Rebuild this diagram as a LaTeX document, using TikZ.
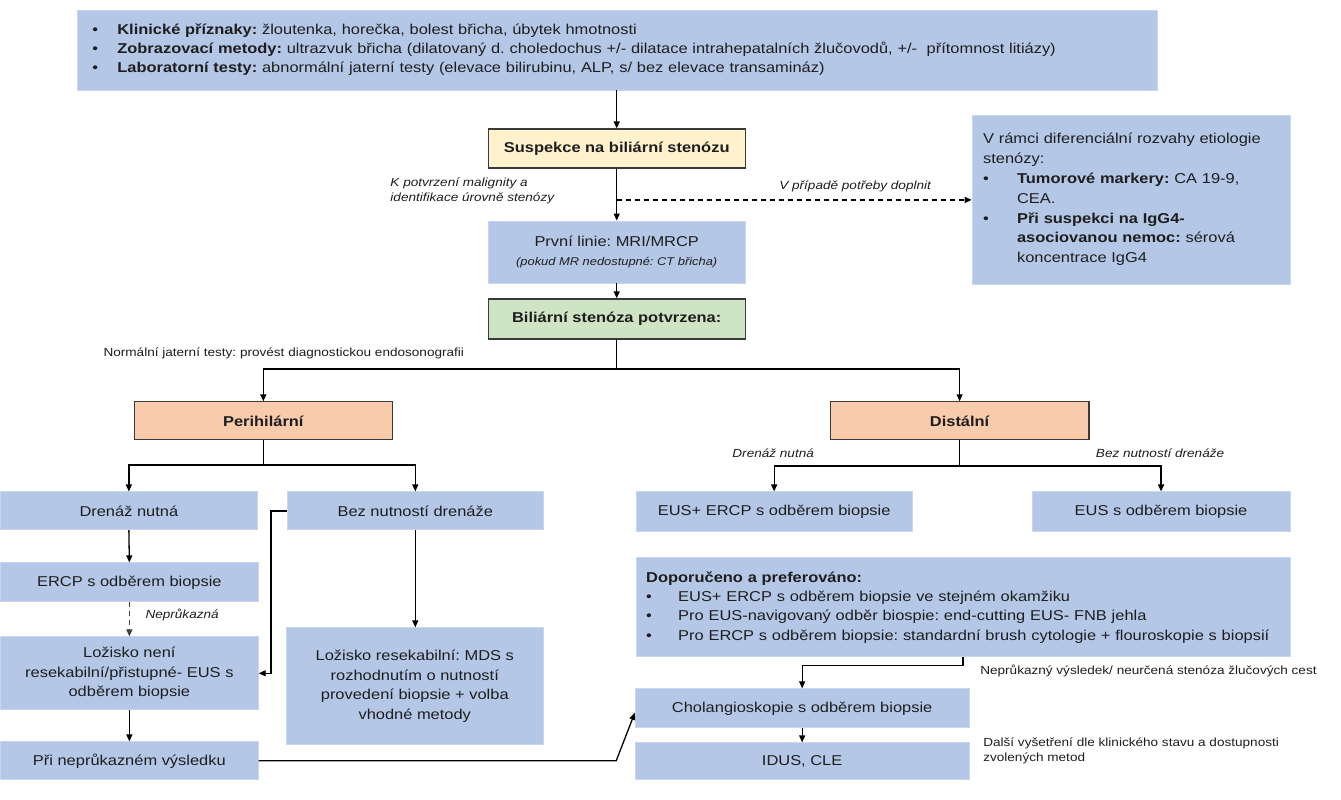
\documentclass[tikz,border=0pt]{standalone}
\usepackage{fontspec}
\setmainfont{Liberation Sans}[FakeStretch=1.15]
\usetikzlibrary{arrows.meta}
\definecolor{bluef}{HTML}{B4C7E7}
\definecolor{blueedge}{HTML}{C9D6EE}
\definecolor{yelf}{HTML}{FFF2CC}
\definecolor{grnf}{HTML}{CFE3C5}
\definecolor{salf}{HTML}{F8CBAD}
\definecolor{edge}{HTML}{3A3A3A}
\definecolor{txt}{HTML}{1E1E1E}
\newcommand{\fsz}[2]{\fontsize{#1pt}{#2pt}\selectfont}
\newcommand{\blt}[1]{\makebox[#1][l]{\textbullet}}
\frenchspacing
\begin{document}
\begin{tikzpicture}[x=1pt,y=-1pt,
  font=\fsz{14.3}{19.5}, text=txt,
  box/.style={rectangle, inner sep=0pt, align=center, text=txt},
  sz/.style 2 args={minimum width=#1pt, minimum height=#2pt},
  bb/.style={box, fill=bluef, draw=blueedge, line width=0.8pt},
  yb/.style={box, fill=yelf, draw=edge, line width=1.2pt, font=\fsz{14.3}{19.5}\bfseries},
  gb/.style={box, fill=grnf, draw=edge, line width=1.2pt, font=\fsz{14.3}{19.5}\bfseries},
  sb/.style={box, fill=salf, draw=edge, line width=1.2pt, font=\fsz{14.3}{19.5}\bfseries},
  lbl/.style={inner sep=0pt, text=txt, font=\fsz{11.8}{15.5}},
  ilbl/.style={lbl, font=\fsz{11.8}{15.5}\itshape},
  conn/.style={draw=black, line width=1.3pt, -{Triangle[length=7pt,width=6pt]}},
  plain/.style={draw=black, line width=1.3pt},
  dsh/.style={conn, dash pattern=on 5pt off 4pt}
]
\fill[white] (0,0) rectangle (1341,800);

% ---------- boxes ----------
\node[bb, sz={1080}{80}, align=left, text width=1050pt, font=\fsz{14.3}{19}] (top) at (617,50)
 {\blt{25pt}\textbf{Klinické příznaky:} žloutenka, horečka, bolest břicha, úbytek hmotnosti\\
  \blt{25pt}\textbf{Zobrazovací metody:} ultrazvuk břicha (dilatovaný d. choledochus +/- dilatace intrahepatalních žlučovodů, +/-\ \ přítomnost litiázy)\\
  \blt{25pt}\textbf{Laboratorní testy:} abnormální jaterní testy (elevace bilirubinu, ALP, s/ bez elevace transamináz)};

\node[yb, sz={257}{39}] (susp) at (616.5,148.5) {Suspekce na biliární stenózu};

\node[bb, sz={318}{169}, align=left, text width=296pt, font=\fsz{14.3}{19.8}] (rbox) at (1131,199.5)
 {V rámci diferenciální rozvahy etiologie\\
  stenózy:\\
  \blt{34pt}\textbf{Tumorové markery:} CA 19-9,\\
  \hspace*{34pt}CEA.\\
  \blt{34pt}\textbf{Při suspekci na IgG4-}\\
  \hspace*{34pt}\textbf{asociovanou nemoc:} sérová\\
  \hspace*{34pt}koncentrace IgG4};

\node[bb, sz={257}{62}] (prvni) at (616.5,252)
 {První linie: MRI/MRCP\\{\fsz{11.2}{14}\itshape (pokud MR nedostupné: CT břicha)}};

\node[gb, sz={257}{40}] (bil) at (616.5,319) {Biliární stenóza potvrzena:};

\node[sb, sz={258}{38}] (peri) at (263,421) {Perihilární};
\node[sb, sz={259}{38}] (dist) at (959.5,421) {Distální};

\node[bb, sz={257}{38}] (dren) at (128.5,511) {Drenáž nutná};
\node[bb, sz={256}{38}] (bez) at (415,511) {Bez nutností drenáže};
\node[bb, sz={258}{39}] (ercp) at (129,582.5) {ERCP s odběrem biopsie};
\node[bb, sz={258}{73}] (lozne) at (129,673.5)
 {Ložisko není\\resekabilní/přistupné- EUS s\\odběrem biopsie};
\node[bb, sz={258}{38}] (pri) at (129,761) {Při neprůkazném výsledku};
\node[bb, sz={257}{117}] (lozres) at (414.5,686.5)
 {Ložisko resekabilní: MDS s\\rozhodnutím o nutností\\provedení biopsie + volba\\vhodné metody};

\node[bb, sz={276}{40}] (euse) at (774,512) {EUS+ ERCP s odběrem biopsie};
\node[bb, sz={258}{40}] (eus) at (1161,512) {EUS s odběrem biopsie};

\node[bb, sz={654}{99}, align=left, text width=634pt, font=\fsz{14.3}{19.3}] (dopor) at (963,607.5)
 {\textbf{Doporučeno a preferováno:}\\
  \blt{32pt}EUS+ ERCP s odběrem biopsie ve stejném okamžiku\\
  \blt{32pt}Pro EUS-navigovaný odběr biospie: end-cutting EUS- FNB jehla\\
  \blt{32pt}Pro ERCP s odběrem biopsie: standardní brush cytologie + flouroskopie s biopsií};

\node[bb, sz={334}{39}] (chol) at (802,708.5) {Cholangioskopie s odběrem biopsie};
\node[bb, sz={334}{37}] (idus) at (802,761.5) {IDUS, CLE};

% ---------- labels ----------
\node[ilbl, anchor=west, align=left] (lconf) at (390,191)
 {K potvrzení malignity a\\identifikace úrovně stenózy};
\node[ilbl] (ldopl) at (855,186) {V případě potřeby doplnit};
\node[lbl, anchor=west] (lnorm) at (103,353)
 {Normální jaterní testy: provést diagnostickou endosonografii};
\node[ilbl, anchor=west] (lnepr) at (145,615) {Neprůkazná};
\node[ilbl] (ldren) at (773,453) {Drenáž nutná};
\node[ilbl] (lbez) at (1160,453) {Bez nutností drenáže};
\node[lbl, anchor=west] (lnev) at (980,671)
 {Neprůkazný výsledek/ neurčená stenóza žlučových cest};
\node[lbl, anchor=west, align=left] (ldal) at (983,751)
 {Další vyšetření dle klinického stavu a dostupnosti\\zvolených metod};

% ---------- connectors ----------
\draw[conn] (top.south -| susp.north) -- (susp.north);
\draw[conn] (susp.south) -- (prvni.north);
\coordinate (dsplit) at (616.5,200);
\draw[dsh] (dsplit) -- (rbox.west |- dsplit);
\draw[conn] (prvni.south) -- (bil.north);

\coordinate (s1) at (616.5,369);
\draw[plain] (bil.south) -- (s1);
\draw[conn] (s1) -| (peri.north);
\draw[conn] (s1) -| (dist.north);

\coordinate (s2) at (263,465);
\draw[plain] (peri.south) -- (s2);
\draw[conn] (s2) -| (dren.north);
\draw[conn] (s2) -| (bez.north);

\draw[conn] (dren.south) -- (ercp.north);
\draw[dsh, draw=black!75] (ercp.south) -- (lozne.north);
\draw[conn] (lozne.south) -- (pri.north);
\draw[conn] (bez.west) -- ++(-16,0) |- (lozne.east);
\draw[conn] (bez.south) -- (bez.south |- lozres.north);

\coordinate (bend) at (616,761);
\draw[conn] (pri.east |- bend) -- (bend) -- ([yshift=-4.5pt]chol.west);

\coordinate (s3) at (959.5,466);
\draw[plain] (dist.south) -- (s3);
\draw[conn] (s3) -| (euse.north);
\draw[conn] (s3) -| (eus.north);

\draw[conn] (dopor.south) -- ++(0,8) -| (chol.north);
\draw[conn] (chol.south) -- (idus.north);
\end{tikzpicture}
\end{document}
